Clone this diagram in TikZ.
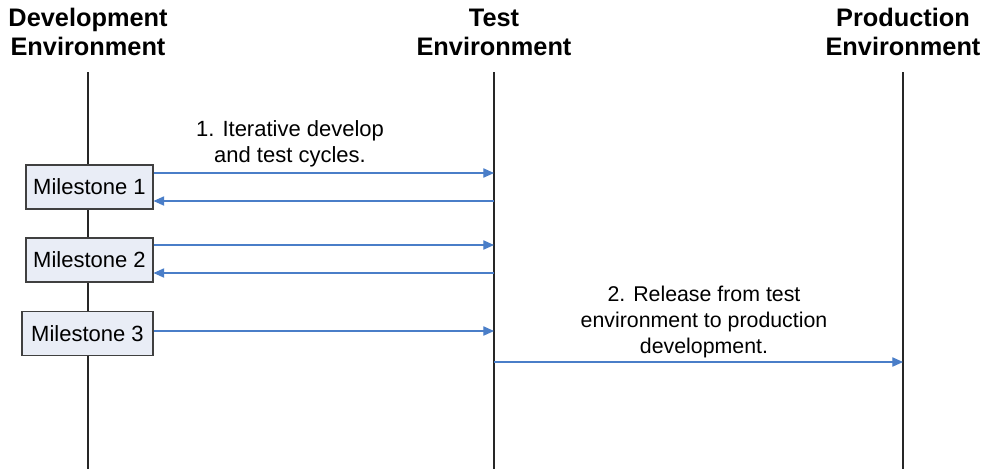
\documentclass[tikz,border=0pt]{standalone}
\usepackage{fontspec}
\setmainfont{Liberation Sans}
\usetikzlibrary{arrows.meta}
\definecolor{arrowblue}{HTML}{4A7EC8}
\definecolor{boxfill}{HTML}{E9EDF6}
\definecolor{boxline}{HTML}{404040}
\tikzset{
  hdr/.style={font=\fontsize{19}{21.75}\selectfont\bfseries, align=center, inner sep=0pt},
  lbl/.style={font=\fontsize{16.5}{19.5}\selectfont, align=center, inner sep=0pt},
  lbltwo/.style={font=\fontsize{16}{19.5}\selectfont, align=center, inner sep=0pt},
  lifeline/.style={draw=black!85, line width=0.9pt},
  msbox/.style={draw=boxline, fill=boxfill, line width=0.8pt, font=\fontsize{16.5}{19.5}\selectfont, inner sep=0pt, minimum height=33pt},
  msg/.style={draw=arrowblue, line width=0.8pt, -{Triangle[length=8pt,width=7pt]}}
}
\begin{document}
\begin{tikzpicture}[x=0.75pt,y=-0.75pt]
\useasboundingbox (0,0) rectangle (990,469);
% headers
\node[hdr] (hdev) at (88,32) {Development\\Environment};
\node[hdr] (htest) at (494,32) {Test\\Environment};
\node[hdr] (hprod) at (903,32) {Production\\Environment};
% lifelines
\coordinate (devtop) at (88,72);
\coordinate (devbot) at (88,469);
\coordinate (testtop) at (494,72);
\coordinate (testbot) at (494,469);
\coordinate (prodtop) at (903,72);
\coordinate (prodbot) at (903,469);
\draw[lifeline] (devtop) -- (devbot);
\draw[lifeline] (testtop) -- (testbot);
\draw[lifeline] (prodtop) -- (prodbot);
% milestones
\node[msbox, minimum width=95.25pt] (m1) at (89.5,187) {Milestone 1};
\node[msbox, minimum width=95.25pt] (m2) at (89.5,260) {Milestone 2};
\node[msbox, minimum width=98.25pt] (m3) at (87.5,333.5) {Milestone 3};
% endpoints on test lifeline
\coordinate (t1) at (494,173);
\coordinate (t2) at (494,201);
\coordinate (t3) at (494,245);
\coordinate (t4) at (494,273);
\coordinate (t5) at (494,331);
\coordinate (t6) at (494,362);
\coordinate (p6) at (903,362);
% messages
\draw[msg] (m1.east |- t1) -- (t1);
\draw[msg] (t2) -- (m1.east |- t2);
\draw[msg] (m2.east |- t3) -- (t3);
\draw[msg] (t4) -- (m2.east |- t4);
\draw[msg] (m3.east |- t5) -- (t5);
\draw[msg] (t6) -- (p6);
% labels
\node[lbl] (l1) at (290,143.5) {1. Iterative develop\\and test cycles.};
\node[lbltwo] (l2) at (704,322) {2. Release from test\\environment to production\\development.};
\end{tikzpicture}
\end{document}
